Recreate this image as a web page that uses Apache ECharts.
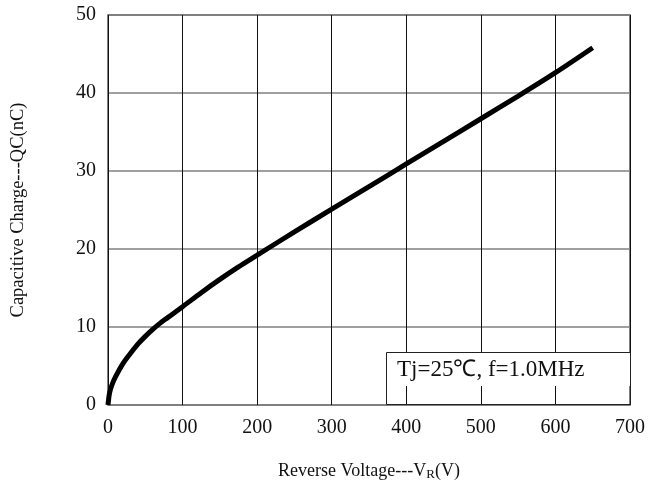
<!DOCTYPE html>
<html>
<head>
<meta charset="utf-8">
<script src="https://cdn.jsdelivr.net/npm/echarts@6/dist/echarts.min.js"></script>
<style>
  html, body { margin: 0; padding: 0; background: #fff; }
  #main { width: 664px; height: 492px; }
</style>
</head>
<body>
<div id="main"></div>
<script>
// curve: reverse voltage (V) vs capacitive charge (nC)
var voltage = [0, 2, 5, 10, 20, 30, 40, 50, 60, 70, 80, 90, 100, 125, 150, 175, 200, 250, 300, 350, 400, 450, 500, 550, 600, 650];
var charge  = [0, 1.5, 2.5, 3.6, 5.3, 6.6, 7.8, 8.8, 9.7, 10.5, 11.2, 11.9, 12.6, 14.4, 16.1, 17.7, 19.2, 22.2, 25.1, 28, 30.9, 33.8, 36.7, 39.6, 42.6, 45.8];
var xTicks = [0, 100, 200, 300, 400, 500, 600, 700];
var yTicks = [0, 10, 20, 30, 40, 50];

var chart = echarts.init(document.getElementById('main'));
var font = '"Liberation Serif", "Times New Roman", serif';

var points = voltage.map(function (v, i) { return [v, charge[i]]; });

var option = {
  animation: false,
  textStyle: { fontFamily: font },
  grid: { left: 108, right: 34, top: 15, bottom: 87, show: true, borderColor: '#555', borderWidth: 1.5 },
  xAxis: {
    type: 'value',
    min: xTicks[0], max: xTicks[xTicks.length - 1], interval: 100,
    axisLine: { show: false },
    axisTick: { show: false },
    splitLine: { lineStyle: { color: '#111', width: 1 } },
    axisLabel: { color: '#111', fontSize: 20, fontFamily: font, margin: 13 },
    name: '{a|Reverse Voltage---V}{s|R}{a|(V)}',
    nameLocation: 'middle', nameGap: 57,
    nameTextStyle: {
      rich: {
        a: { fontSize: 18, fontFamily: font, color: '#111' },
        s: { fontSize: 13, fontFamily: font, color: '#111', padding: [6, 0, 0, 0] }
      }
    }
  },
  yAxis: {
    type: 'value',
    min: yTicks[0], max: yTicks[yTicks.length - 1], interval: 10,
    axisLine: { show: false },
    axisTick: { show: false },
    splitLine: { lineStyle: { color: '#808080', width: 1.5 } },
    axisLabel: { color: '#111', fontSize: 20, fontFamily: font, margin: 12 },
    name: 'Capacitive Charge---QC(nC)',
    nameLocation: 'middle', nameGap: 80,
    nameTextStyle: { fontSize: 18.5, fontFamily: font, color: '#111' }
  },
  graphic: [{
    type: 'rect',
    z: 100,
    shape: { x: 387, y: 353, width: 243, height: 33 },
    style: { fill: '#fff' }
  }, {
    type: 'rect',
    z: 101,
    shape: { x: 386.5, y: 352.5, width: 244, height: 52 },
    style: { fill: 'none', stroke: '#222', lineWidth: 1 }
  }, {
    type: 'text',
    left: 397, top: 358,
    z: 102,
    style: {
      text: 'Tj=25\u2103, f=1.0MHz',
      fontSize: 23, fontFamily: font, fill: '#111'
    }
  }],
  series: [{
    type: 'line',
    data: points,
    smooth: 0.3,
    showSymbol: false,
    lineStyle: { color: '#000', width: 5 }
  }]
};
chart.setOption(option);
</script>
</body>
</html>
